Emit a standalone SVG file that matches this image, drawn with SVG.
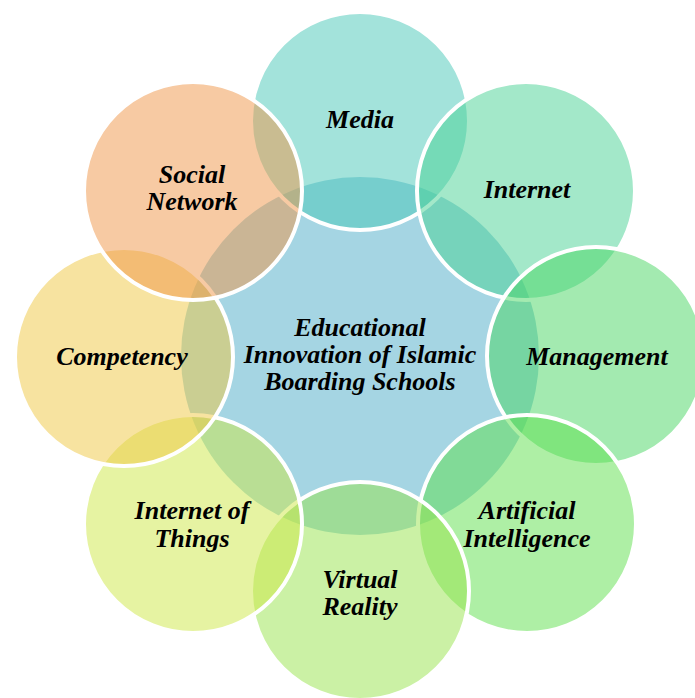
<svg xmlns="http://www.w3.org/2000/svg" width="695" height="698" viewBox="0 0 695 698">
  <style>
    .hub { fill: #a5d5e3; }
    .petal { stroke: #ffffff; stroke-width: 4; fill-opacity: 0.5; }
    .label { font-family: "Liberation Serif", "Times New Roman", serif; font-weight: bold; font-style: italic; font-size: 26px; fill: #000000; text-anchor: middle; }
  </style>
  <rect width="695" height="698" fill="#ffffff"/>

  <g id="hub">
    <circle class="hub" cx="360" cy="356" r="179"/>
  </g>

  <g id="media">
    <circle class="petal" cx="360" cy="121" r="109" fill="#47c7b7"/>
    <text class="label" x="360" y="128">Media</text>
  </g>

  <g id="internet">
    <circle class="petal" cx="526" cy="191" r="109" fill="#47d193"/>
    <text class="label" x="527" y="198">Internet</text>
  </g>

  <g id="management">
    <circle class="petal" cx="596" cy="356" r="109" fill="#47d561"/>
    <text class="label" x="597" y="365">Management</text>
  </g>

  <g id="artificial-intelligence">
    <circle class="petal" cx="527" cy="524" r="109" fill="#5ddf4b"/>
    <text class="label" x="527" y="519">Artificial</text>
    <text class="label" x="527" y="547">Intelligence</text>
  </g>

  <g id="virtual-reality">
    <circle class="petal" cx="360" cy="591" r="109" fill="#97e34b"/>
    <text class="label" x="360" y="588">Virtual</text>
    <text class="label" x="360" y="615">Reality</text>
  </g>

  <g id="internet-of-things">
    <circle class="petal" cx="193" cy="524" r="109" fill="#cde745"/>
    <text class="label" x="192" y="519">Internet of</text>
    <text class="label" x="192" y="547">Things</text>
  </g>

  <g id="competency">
    <circle class="petal" cx="124" cy="357" r="109" fill="#efc741"/>
    <text class="label" x="122" y="365">Competency</text>
  </g>

  <g id="social-network">
    <circle class="petal" cx="193" cy="191" r="109" fill="#ef9547"/>
    <text class="label" x="192" y="183">Social</text>
    <text class="label" x="192" y="210">Network</text>
  </g>

  <!-- hub caption sits above every petal -->
  <g id="hub-label">
    <text class="label" x="360" y="336">Educational</text>
    <text class="label" x="360" y="363">Innovation of Islamic</text>
    <text class="label" x="360" y="390">Boarding Schools</text>
  </g>

  <g id="connectors"></g>
</svg>
